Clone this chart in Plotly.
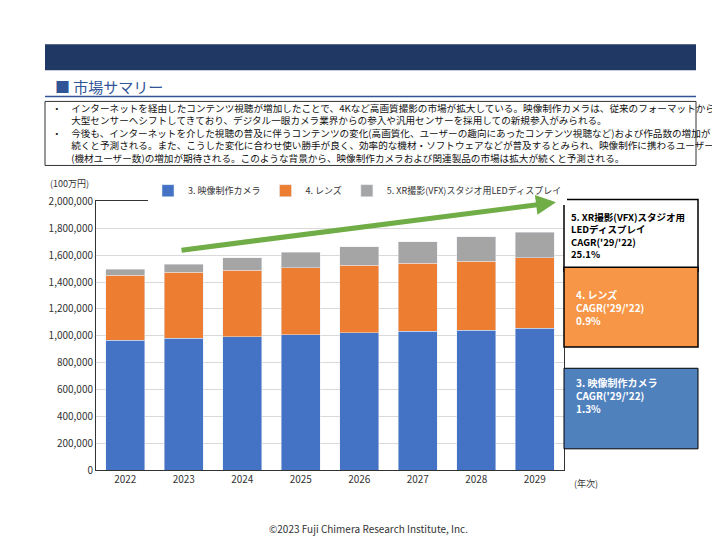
import plotly.graph_objects as go

years = ["2022","2023","2024","2025","2026","2027","2028","2029"]
camera = [967000, 982000, 991000, 1006000, 1023000, 1035000, 1042000, 1056000]
lens = [484000, 489000, 496000, 501000, 500000, 503000, 513000, 523000]
xr = [43000, 62000, 92000, 115000, 138000, 161000, 183000, 192000]
names = ["3. 映像制作カメラ", "4. レンズ", "5. XR撮影(VFX)スタジオ用LEDディスプレイ"]
colors = ["#4472C4", "#ED7D31", "#A5A5A5"]

W, H = 720, 540
def px(x): return x / W
def py(y): return 1 - y / H

fig = go.Figure()
for vals, n, c in zip([camera, lens, xr], names, colors):
    fig.add_bar(x=years, y=vals, name=n, marker_color=c, width=0.66)

F = "Noto Sans CJK JP"
fig.update_layout(
    width=W, height=H, margin=dict(l=0, r=0, t=0, b=0),
    paper_bgcolor="white", plot_bgcolor="white", barmode="stack",
    font=dict(family=F, size=10, color="#333"),
    xaxis=dict(domain=[px(88), px(556)], showline=True, linecolor="#333", mirror=True,
               tickfont=dict(size=10)),
    yaxis=dict(domain=[py(467), py(190)], range=[0, 2000000], dtick=200000,
               tickformat=",", gridcolor="#D9D9D9", showline=True, linecolor="#333",
               mirror=True, tickfont=dict(size=10)),
    legend=dict(orientation="h", x=px(140), y=py(164), xanchor="left", yanchor="top",
                font=dict(size=9), traceorder="normal", itemwidth=30),
    bargap=0.3,
)

shapes = [
    dict(type="rect", xref="paper", yref="paper", x0=px(37), x1=px(688), y0=py(55), y1=py(28),
         fillcolor="#1F3864", line_width=0),
    dict(type="line", xref="paper", yref="paper", x0=px(37), x1=px(688), y0=py(82), y1=py(82),
         line=dict(color="#2F5597", width=1.5)),
    dict(type="rect", xref="paper", yref="paper", x0=px(37), x1=px(688), y0=py(153), y1=py(87),
         line=dict(color="#333", width=1), fillcolor="white"),
    dict(type="rect", xref="paper", yref="paper", x0=px(556), x1=px(690), y0=py(262), y1=py(188),
         line=dict(color="#000", width=1.5), fillcolor="white"),
    dict(type="rect", xref="paper", yref="paper", x0=px(556), x1=px(690), y0=py(340), y1=py(258),
         line=dict(color="#000", width=1.5), fillcolor="#F79646"),
    dict(type="rect", xref="paper", yref="paper", x0=px(556), x1=px(690), y0=py(445), y1=py(362),
         line=dict(color="#000", width=1), fillcolor="#4F81BD"),
]
fig.update_layout(shapes=shapes)

body = ("・　インターネットを経由したコンテンツ視聴が増加したことで、4Kなど高画質撮影の市場が拡大している。映像制作カメラは、従来のフォーマットから<br>"
        "　　大型センサーへシフトしてきており、デジタル一眼カメラ業界からの参入や汎用センサーを採用しての新規参入がみられる。<br>"
        "・　今後も、インターネットを介した視聴の普及に伴うコンテンツの変化(高画質化、ユーザーの趣向にあったコンテンツ視聴など)および作品数の増加が<br>"
        "　　続くと予測される。また、こうした変化に合わせ使い勝手が良く、効率的な機材・ソフトウェアなどが普及するとみられ、映像制作に携わるユーザー数<br>"
        "　　(機材ユーザー数)の増加が期待される。このような背景から、映像制作カメラおよび関連製品の市場は拡大が続くと予測される。")

ann = [
    dict(text="■ 市場サマリー", x=px(45), y=py(72), xanchor="left", yanchor="middle",
         font=dict(size=15, color="#2F5597")),
    dict(text=body, x=px(42), y=py(120), xanchor="left", yanchor="middle", align="left",
         font=dict(size=9.6, color="#111")),
    dict(text="(100万円)", x=px(40), y=py(172), xanchor="left", yanchor="middle", font=dict(size=9)),
    dict(text="(年次)", x=px(564), y=py(481), xanchor="left", yanchor="middle", font=dict(size=9)),
    dict(text="<b>5. XR撮影(VFX)スタジオ用<br>LEDディスプレイ<br>CAGR('29/'22)<br>25.1%</b>",
         x=px(561), y=py(225), xanchor="left", yanchor="middle", align="left",
         font=dict(size=9.5, color="#000")),
    dict(text="<b>4. レンズ<br>CAGR('29/'22)<br>0.9%</b>", x=px(566), y=py(299),
         xanchor="left", yanchor="middle", align="left", font=dict(size=10, color="white")),
    dict(text="<b>3. 映像制作カメラ<br>CAGR('29/'22)<br>1.3%</b>", x=px(566), y=py(390),
         xanchor="left", yanchor="middle", align="left", font=dict(size=10, color="white")),
    dict(text="©2023 Fuji Chimera Research Institute, Inc.", x=0.5, y=py(527),
         xanchor="center", yanchor="middle", font=dict(size=10, color="#333")),
    dict(text="", x=px(548), y=py(191), xref="paper", yref="paper", ax=-376, ay=48,
         showarrow=True, arrowhead=2, arrowsize=0.8, arrowwidth=5, arrowcolor="#70AD47"),
]
for a in ann:
    a.setdefault("xref", "paper"); a.setdefault("yref", "paper")
    a.setdefault("showarrow", False)
fig.update_layout(annotations=ann)

fig.write_html("out.html")
